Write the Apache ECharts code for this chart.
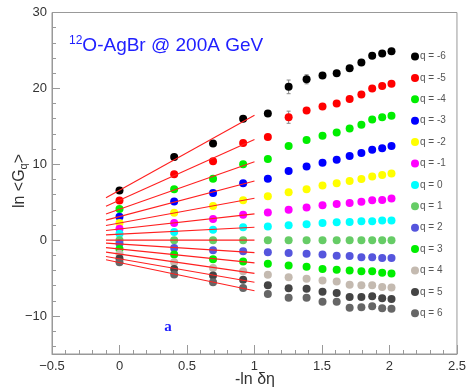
<!DOCTYPE html>
<html>
<head>
<meta charset="utf-8">
<script src="https://cdn.jsdelivr.net/npm/echarts@6/dist/echarts.min.js"></script>
<style>
  html, body { margin: 0; padding: 0; background: #fff; }
  #chart { width: 469px; height: 389px; }
</style>
</head>
<body>
<div id="chart"></div>
<script>
// -ln(deta) values of the bins
const xVals = [0, 0.405, 0.693, 0.916, 1.099, 1.253, 1.386, 1.504, 1.609, 1.705, 1.792, 1.872, 1.946, 2.015];

const qNames = ['q = -6', 'q = -5', 'q = -4', 'q = -3', 'q = -2', 'q = -1', 'q = 0',
                'q = 1', 'q = 2', 'q = 3', 'q = 4', 'q = 5', 'q = 6'];
const qColors = ['#000000', '#ff0000', '#00ee00', '#0000ff', '#ffff00', '#ff00ff', '#00ffff',
                 '#66cc66', '#5555dd', '#00ee00', '#c4bab0', '#444444', '#666666'];

// ln <G_q>
const qm6 = [6.55, 10.95, 12.74, 16.0, 16.7, 20.2, 21.2, 21.7, 22.0, 22.65, 23.4, 24.3, 24.6, 24.9];
const qm5 = [5.24, 8.7, 10.4, 12.8, 13.6, 16.2, 17.1, 17.6, 18.0, 18.6, 19.2, 20.0, 20.3, 20.6];
const qm4 = [4.1, 6.7, 8.1, 10.0, 10.7, 12.4, 13.2, 13.75, 14.2, 14.7, 15.2, 15.9, 16.2, 16.4];
const qm3 = [3.1, 5.1, 6.2, 7.5, 8.1, 9.1, 9.7, 10.2, 10.6, 11.1, 11.5, 11.9, 12.1, 12.4];
const qm2 = [2.25, 3.6, 4.5, 5.25, 5.8, 6.3, 6.7, 7.2, 7.5, 7.8, 8.05, 8.4, 8.6, 8.8];
const qm1 = [1.5, 2.25, 2.8, 3.35, 3.65, 4.0, 4.3, 4.6, 4.75, 4.9, 5.05, 5.25, 5.3, 5.5];
const q0 = [0.85, 1.07, 1.38, 1.7, 1.8, 1.95, 2.1, 2.25, 2.35, 2.4, 2.5, 2.5, 2.6, 2.6];
const q1 = [0, 0, 0, 0, 0, 0, 0, 0, 0, 0, 0, 0, 0, 0];
const q2 = [-0.45, -1.03, -1.34, -1.47, -1.6, -1.7, -1.8, -1.9, -2.04, -2.1, -2.26, -2.26, -2.35, -2.35];
const q3 = [-1.16, -1.9, -2.5, -2.8, -3.1, -3.35, -3.5, -3.8, -3.9, -4.0, -4.1, -4.1, -4.3, -4.4];
const q4 = [-1.8, -2.9, -3.66, -4.1, -4.55, -4.9, -5.1, -5.33, -5.46, -5.86, -5.95, -5.95, -6.16, -6.25];
const q5 = [-2.4, -3.8, -4.67, -5.2, -5.95, -6.34, -6.4, -6.8, -6.95, -7.5, -7.5, -7.4, -7.65, -7.74];
const q6 = [-2.9, -4.54, -5.55, -6.3, -7.1, -7.6, -7.6, -8.13, -8.13, -8.92, -8.84, -8.7, -8.97, -9.05];
const allQ = [qm6, qm5, qm4, qm3, qm2, qm1, q0, q1, q2, q3, q4, q5, q6];

// visible error bars (q=-6, q=-5)
const errM6 = [0, 0, 0, 0, 0, 0.9, 0.6, 0, 0, 0, 0, 0, 0, 0];
const errM5 = [0, 0, 0, 0, 0, 0.8, 0, 0, 0, 0, 0, 0, 0, 0];

// linear fits over the first 4 points, drawn in this range
const fitPts = 4;
const fitRange = [-0.1, 1.0];

function fit(ys) {
  let sx = 0, sy = 0, sxx = 0, sxy = 0;
  for (let i = 0; i < fitPts; i++) {
    sx += xVals[i]; sy += ys[i]; sxx += xVals[i] * xVals[i]; sxy += xVals[i] * ys[i];
  }
  const b = (fitPts * sxy - sx * sy) / (fitPts * sxx - sx * sx);
  const a = (sy - b * sx) / fitPts;
  return fitRange.map(x => [x, a + b * x]);
}

const fmt = v => String(v).replace('-', '\u2212');

const series = [];
allQ.forEach((ys, k) => {
  series.push({
    name: qNames[k],
    type: 'scatter',
    symbol: 'circle',
    symbolSize: 8,
    itemStyle: { color: qColors[k], opacity: 1 },
    z: 3,
    data: ys.map((y, i) => [xVals[i], y])
  });
});
allQ.forEach((ys) => {
  series.push({
    type: 'line',
    showSymbol: false,
    silent: true,
    z: 4,
    lineStyle: { color: '#ff2020', width: 1.1 },
    data: fit(ys)
  });
});
[[qm6, errM6], [qm5, errM5]].forEach(([ys, es]) => {
  series.push({
    type: 'custom',
    silent: true,
    z: 2,
    data: ys.map((y, i) => [xVals[i], y, es[i]]).filter(d => d[2] > 0),
    renderItem: (params, api) => {
      const top = api.coord([api.value(0), api.value(1) + api.value(2)]);
      const bot = api.coord([api.value(0), api.value(1) - api.value(2)]);
      const st = { stroke: '#888', lineWidth: 1 };
      return { type: 'group', children: [
        { type: 'line', shape: { x1: top[0], y1: top[1], x2: bot[0], y2: bot[1] }, style: st },
        { type: 'line', shape: { x1: top[0] - 2, y1: top[1], x2: top[0] + 2, y2: top[1] }, style: st },
        { type: 'line', shape: { x1: bot[0] - 2, y1: bot[1], x2: bot[0] + 2, y2: bot[1] }, style: st }
      ]};
    }
  });
});

const axisCol = '#999';
const labelStyle = { color: '#333', fontSize: 13, fontFamily: 'Liberation Sans, Arial, sans-serif' };

const option = {
  animation: false,
  backgroundColor: '#fff',
  grid: { left: 52, right: 10, top: 12.5, bottom: 35, show: true, borderColor: axisCol, borderWidth: 1 },
  xAxis: {
    type: 'value', min: -0.5, max: 2.5, interval: 0.5,
    axisLine: { show: true, onZero: false, lineStyle: { color: axisCol } },
    axisTick: { show: true, inside: true, length: 9, lineStyle: { color: axisCol } },
    minorTick: { show: true, splitNumber: 5, length: 4, lineStyle: { color: axisCol } },
    splitLine: { show: false },
    axisLabel: Object.assign({ margin: 6, formatter: fmt }, labelStyle)
  },
  yAxis: {
    type: 'value', min: -15, max: 30,
    axisLine: { show: true, onZero: false, lineStyle: { color: axisCol } },
    axisTick: { show: true, inside: true, length: 8, lineStyle: { color: axisCol } },
    minorTick: { show: true, splitNumber: 5, length: 4, lineStyle: { color: axisCol } },
    splitLine: { show: false },
    axisLabel: Object.assign({ margin: 5, formatter: v => (v % 10 === 0 ? fmt(v) : '') }, labelStyle)
  },
  legend: {
    orient: 'vertical',
    left: 411, top: 51.5, padding: 0,
    itemWidth: 8, itemHeight: 8, itemGap: 11.4,
    icon: 'circle',
    data: qNames,
    textStyle: { color: '#555', fontSize: 10, padding: [0, 0, 0, -4],
                 fontFamily: 'Liberation Sans, Arial, sans-serif' }
  },
  graphic: [
    { type: 'text', left: 69, top: 35, style: {
        text: '{sup|12}O-AgBr @ 200A GeV', fill: '#2020ff', font: '19px Liberation Sans, Arial, sans-serif',
        rich: { sup: { fontSize: 12, verticalAlign: 'top', padding: [0, 0, 9, 0], fill: '#2020ff' } } } },
    { type: 'text', x: 168, y: 327, style: {
        text: 'a', fill: '#1a1aff', align: 'center', verticalAlign: 'middle',
        font: 'bold 15px Liberation Serif, serif' } },
    { type: 'text', x: 255, y: 380, style: {
        text: '-ln \u03b4\u03b7', fill: '#333', align: 'center', verticalAlign: 'middle',
        font: '16px Liberation Sans, Arial, sans-serif' } },
    { type: 'text', x: 20, y: 181, rotation: Math.PI / 2, style: {
        text: 'ln <G{sub|q}>', fill: '#333', align: 'center', verticalAlign: 'middle',
        font: '16px Liberation Sans, Arial, sans-serif',
        rich: { sub: { fontSize: 11, padding: [8, 0, 0, 0], fill: '#333' } } } }
  ],
  series: series
};

const myChart = echarts.init(document.getElementById('chart'));
myChart.setOption(option);
</script>
</body>
</html>
